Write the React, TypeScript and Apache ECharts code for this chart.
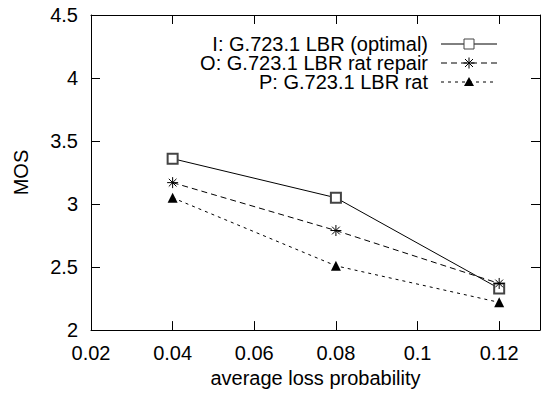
import React, { useEffect, useRef } from "react";
import * as echarts from "echarts";

const lossProb = [0.04, 0.08, 0.12];
const seriesNames = [
  "I: G.723.1 LBR (optimal)",
  "O: G.723.1 LBR rat repair",
  "P: G.723.1 LBR rat",
];
const mosI = [3.36, 3.05, 2.33];
const mosO = [3.17, 2.79, 2.37];
const mosP = [3.05, 2.51, 2.22];

const FONT = '"Liberation Sans", Arial, Helvetica, sans-serif';
const ASTERISK = "path://M5 0V10M0 5H10M1.5 1.5L8.5 8.5M1.5 8.5L8.5 1.5";

function pairs(ys: number[]) {
  return lossProb.map((x, i) => [x, ys[i]]);
}

export default function App() {
  const ref = useRef<HTMLDivElement>(null);
  useEffect(() => {
    if (!ref.current) return;
    const chart = echarts.init(ref.current, null, { renderer: "svg" });
    const axisCommon = {
      axisLine: { show: true, onZero: false, lineStyle: { color: "#000", width: 1 } },
      axisTick: { show: true, inside: true, length: 9, lineStyle: { color: "#000", width: 1 } },
      splitLine: { show: false },
    };
    const lx1 = 441, lx2 = 497, lmx = 469;
    const rows = [44, 63, 82];
    const legendText = (i: number) => ({
      type: "text",
      x: 428,
      y: rows[i],
      style: {
        text: seriesNames[i],
        textAlign: "right",
        textVerticalAlign: "middle",
        font: `20px ${FONT}`,
        fill: "#000",
      },
    });
    const legendLine = (i: number, dash: number[] | null) => ({
      type: "line",
      shape: { x1: lx1, y1: rows[i], x2: lx2, y2: rows[i] },
      style: { stroke: "#000", lineWidth: 1, lineDash: dash || undefined },
    });
    const r1 = rows[1];
    chart.setOption({
      animation: false,
      backgroundColor: "#fff",
      grid: { left: 91, top: 15, right: 2, bottom: 60, containLabel: false },
      xAxis: [
        {
          type: "value",
          min: 0.02,
          max: 0.13,
          interval: 0.02,
          position: "bottom",
          name: "average loss probability",
          nameLocation: "middle",
          nameGap: 37,
          nameTextStyle: { fontFamily: FONT, fontSize: 20, color: "#000" },
          axisLabel: { fontFamily: FONT, fontSize: 20, color: "#000", margin: 13, showMaxLabel: false },
          ...axisCommon,
        },
        {
          type: "value",
          min: 0.02,
          max: 0.13,
          interval: 0.02,
          position: "top",
          axisLabel: { show: false },
          ...axisCommon,
        },
      ],
      yAxis: [
        {
          type: "value",
          min: 2,
          max: 4.5,
          interval: 0.5,
          position: "left",
          name: "MOS",
          nameLocation: "middle",
          nameGap: 60,
          nameTextStyle: { fontFamily: FONT, fontSize: 20, color: "#000" },
          axisLabel: { fontFamily: FONT, fontSize: 20, color: "#000", margin: 13 },
          ...axisCommon,
        },
        {
          type: "value",
          min: 2,
          max: 4.5,
          interval: 0.5,
          position: "right",
          axisLabel: { show: false },
          ...axisCommon,
        },
      ],
      series: [
        {
          name: seriesNames[0],
          type: "line",
          data: pairs(mosI),
          symbol: "emptyRect",
          symbolSize: 10,
          lineStyle: { color: "#000", width: 1, type: "solid" },
          itemStyle: { color: "#444", borderColor: "#444", borderWidth: 1 },
        },
        {
          name: seriesNames[1],
          type: "line",
          data: pairs(mosO),
          symbol: ASTERISK,
          symbolSize: 11,
          lineStyle: { color: "#000", width: 1, type: [6, 4] },
          itemStyle: { color: "#000", borderColor: "#000", borderWidth: 1 },
        },
        {
          name: seriesNames[2],
          type: "line",
          data: pairs(mosP),
          symbol: "triangle",
          symbolSize: 10,
          lineStyle: { color: "#000", width: 1, type: [3, 4] },
          itemStyle: { color: "#000" },
        },
      ],
      graphic: [
        legendText(0),
        legendLine(0, null),
        {
          type: "rect",
          shape: { x: lmx - 5, y: rows[0] - 5, width: 10, height: 10 },
          style: { fill: "#fff", stroke: "#444", lineWidth: 1 },
        },
        legendText(1),
        legendLine(1, [6, 4]),
        { type: "line", shape: { x1: lmx, y1: r1 - 5.5, x2: lmx, y2: r1 + 5.5 }, style: { stroke: "#000", lineWidth: 1 } },
        { type: "line", shape: { x1: lmx - 5.5, y1: r1, x2: lmx + 5.5, y2: r1 }, style: { stroke: "#000", lineWidth: 1 } },
        { type: "line", shape: { x1: lmx - 4, y1: r1 - 4, x2: lmx + 4, y2: r1 + 4 }, style: { stroke: "#000", lineWidth: 1 } },
        { type: "line", shape: { x1: lmx - 4, y1: r1 + 4, x2: lmx + 4, y2: r1 - 4 }, style: { stroke: "#000", lineWidth: 1 } },
        legendText(2),
        legendLine(2, [3, 4]),
        {
          type: "polygon",
          shape: { points: [[lmx, rows[2] - 5], [lmx - 5, rows[2] + 4], [lmx + 5, rows[2] + 4]] },
          style: { fill: "#000" },
        },
      ],
    });
    return () => chart.dispose();
  }, []);
  return (
    <div
      ref={ref}
      style={{ position: "fixed", left: 0, top: 0, width: 542, height: 393 }}
    />
  );
}
